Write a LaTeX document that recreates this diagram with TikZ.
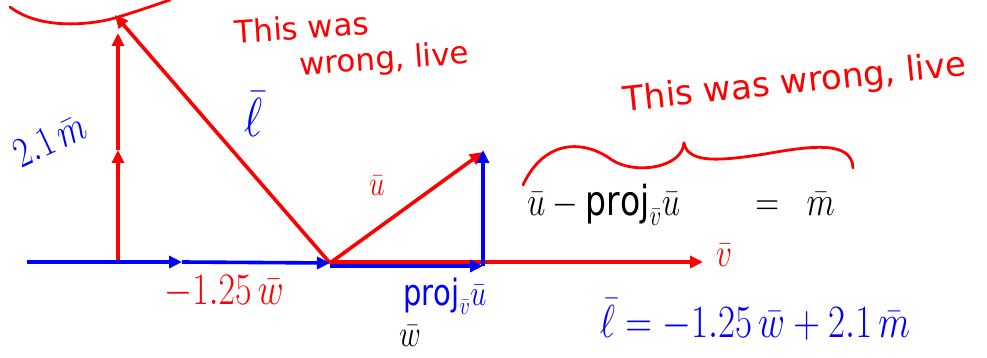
\RequirePackage{fix-cm}
\documentclass[tikz,border=0pt]{standalone}
\usepackage{fontspec}
\setmainfont{DejaVu Sans}
\usetikzlibrary{arrows.meta}
\definecolor{pred}{RGB}{255,0,0}
\definecolor{pblue}{RGB}{0,0,255}
\newcommand{\tallm}[1]{\scalebox{1}[1.25]{#1}}
\begin{document}
\begin{tikzpicture}[x=1pt,y=-1pt,
  vec/.style={line width=3.6pt,-{Triangle[length=13pt,width=12pt]}},
  redvec/.style={vec,draw=pred},
  bluevec/.style={vec,draw=pblue},
  ink/.style={line width=2.8pt,line cap=round},
  lbl/.style={inner sep=0pt,font=\fontsize{24}{26}\selectfont},
  hand/.style={inner sep=0pt,font=\fontsize{31}{36}\selectfont,align=left}
]
\useasboundingbox (0,0) rectangle (987,358);
\fill[white] (0,0) rectangle (987,358);

% points
\coordinate (O) at (330,263);
\coordinate (L0) at (27,262);
\coordinate (Wm) at (182,262);
\coordinate (B) at (118,262);
\coordinate (M1) at (118,150);
\coordinate (T) at (118,33);
\coordinate (Lt) at (115,15);
\coordinate (U) at (483,152);
\coordinate (Pb) at (483,266);
\coordinate (Ob) at (330,266);
\coordinate (Or) at (330,262);
\coordinate (V) at (703,262);
\coordinate (Pt) at (483,150);

% red vectors
\draw[redvec] (B) -- (M1);
\draw[redvec] (M1) -- (T);
\draw[redvec] (O) -- (Lt);
\draw[redvec] (O) -- (U);
\draw[redvec] (Or) -- (V);

% blue vectors
\draw[bluevec] (L0) -- (Wm);
\draw[bluevec] (Wm) -- (O);
\draw[bluevec,line width=4.4pt] (Ob) -- (Pb);
\draw[bluevec] (Pb) -- (Pt);

% red curves (annotations)
\draw[ink,pred] (10,7) .. controls (40,30) and (90,25) .. (115,18) .. controls (135,12) and (155,5) .. (170,0);
\draw[ink,pred] (523,185) .. controls (545,138) and (585,140) .. (612,160) .. controls (635,175) and (682,168) .. (684,143);
\draw[ink,pred] (684,143) .. controls (688,165) and (725,160) .. (765,154) .. controls (810,146) and (852,140) .. (853,168);

% labels
\node[lbl,text=pblue,rotate=25,font=\fontsize{34}{36}\selectfont] (m21) at (50,140) {\tallm{$2.1\,\bar{m}$}};
\node[lbl,text=pblue,font=\fontsize{44}{46}\selectfont] (lab) at (254,114) {\tallm{$\bar{\ell}$}};
\node[lbl,text=pred,font=\fontsize{28}{30}\selectfont] (ulab) at (377,186) {\tallm{$\bar{u}$}};
\node[lbl,text=pred,font=\fontsize{32}{34}\selectfont] (vlab) at (724,255) {\tallm{$\bar{v}$}};
\node[lbl,text=pred,font=\fontsize{36}{38}\selectfont] (w125) at (224,292) {\tallm{$-1.25\,\bar{w}$}};
\node[lbl,text=pblue,font=\fontsize{29}{31}\selectfont] (proj) at (445,296) {\tallm{$\mathrm{proj}_{\bar{v}}\bar{u}$}};
\node[lbl,font=\fontsize{30}{32}\selectfont] (wlab) at (410,336) {\tallm{$\bar{w}$}};
\node[lbl,font=\fontsize{33}{36}\selectfont] (eq1) at (681,205) {\tallm{$\bar{u}-\mathrm{proj}_{\bar{v}}\bar{u}\qquad=\;\;\bar{m}$}};
\node[lbl,text=pblue,font=\fontsize{37}{40}\selectfont] (eq2) at (755,320) {\tallm{$\bar{\ell}=-1.25\,\bar{w}+2.1\,\bar{m}$}};

\node[hand,text=pred,rotate=4,anchor=north west] (note1) at (234,20) {This was\\\hspace{2em}wrong, live};
\node[hand,text=pred,rotate=6,font=\fontsize{34}{38}\selectfont] (note2) at (795,84) {This was wrong, live};
\end{tikzpicture}
\end{document}
